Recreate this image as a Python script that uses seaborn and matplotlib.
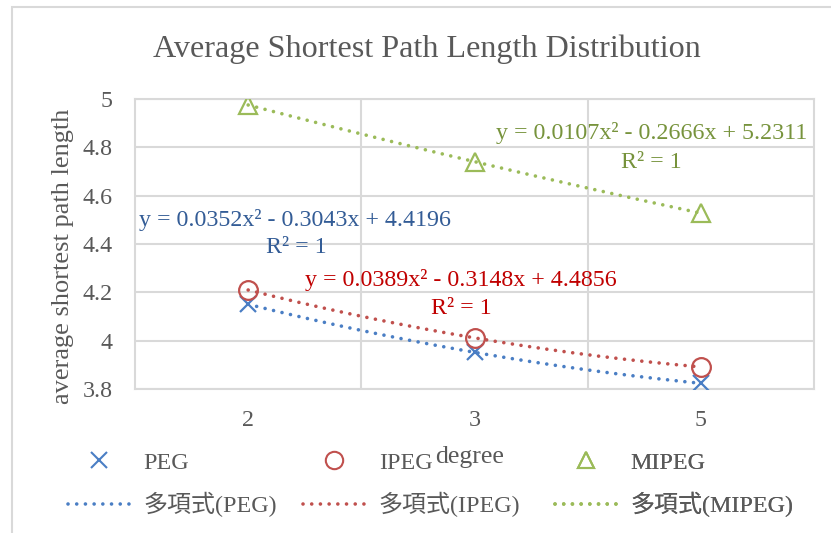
import numpy as np
import pandas as pd
import matplotlib
matplotlib.use("Agg")
import matplotlib.pyplot as plt
from matplotlib.lines import Line2D
from matplotlib.patches import Rectangle
import seaborn as sns

# ---- data -------------------------------------------------------------
degrees = ["2", "3", "5"]
peg = [4.1505, 3.9518, 3.8235]
ipeg = [4.2097, 4.0116, 3.8913]
mipeg = [4.9752, 4.7407, 4.5276]
series_names = ["PEG", "IPEG", "MIPEG"]
trend_prefix = "多項式"
y_ticks = [3.8, 4.0, 4.2, 4.4, 4.6, 4.8, 5.0]
y_tick_labels = ["3.8", "4", "4.2", "4.4", "4.6", "4.8", "5"]

# ---- style ------------------------------------------------------------
sns.set_theme(style="white")
plt.rcParams["font.family"] = ["Liberation Serif", "Noto Sans CJK TC"]
TXT = "#595959"
GRID = "#D9D9D9"
marker_colors = ["#4A7EC4", "#C0504D", "#9BBB59"]
eq_colors = ["#335C96", "#C00000", "#77933C"]
markers = ["x", "o", "^"]
marker_sizes = [12, 13.5, 12.5]
DOTS = (0, (0.01, 2.4))
FS = 17.3

W, H = 831, 533
fig = plt.figure(figsize=(W / 100, H / 100), dpi=100)
fig.patch.set_facecolor("white")

def fx(px):
    return px / W

def fy(py):
    return 1 - py / H

# chart border
fig.patches.append(Rectangle((fx(12), -0.1), 1.2, fy(7) + 0.1, transform=fig.transFigure,
                             fill=False, edgecolor=GRID, lw=1.5))

ax = fig.add_axes([fx(135), fy(389), fx(814) - fx(135), fy(99) - fy(389)])
ax.set_facecolor("white")

pos = np.arange(1, len(degrees) + 1)
df = pd.DataFrame({"pos": pos, "PEG": peg, "IPEG": ipeg, "MIPEG": mipeg})

fits = []
xs = np.linspace(1, len(degrees), 200)
for i, name in enumerate(series_names):
    coeffs = np.polyfit(df["pos"], df[name], 2)
    fits.append(coeffs)
    curve = pd.DataFrame({"x": xs, "y": np.polyval(coeffs, xs)})
    sns.lineplot(data=curve, x="x", y="y", ax=ax, color=marker_colors[i], lw=2.6,
                 linestyle=DOTS, dash_capstyle="round", zorder=2)

for i, name in enumerate(series_names):
    kw = dict(marker=markers[i], linestyle="none", markersize=marker_sizes[i],
              markeredgewidth=1.6, color=marker_colors[i], markeredgecolor=marker_colors[i],
              zorder=3)
    if markers[i] != "x":
        kw["markerfacecolor"] = "none"
    sns.lineplot(data=df, x="pos", y=name, ax=ax, **kw)

# axes ranges, grid, frame
ax.set_xlim(0.5, len(degrees) + 0.5)
ax.set_ylim(3.8, 5.0)
ax.set_yticks(y_ticks)
ax.set_yticklabels(y_tick_labels)
ax.set_xticks(pos)
ax.set_xticklabels(degrees)
ax.set_xticks(pos[:-1] + 0.5, minor=True)
ax.grid(which="major", axis="y", color=GRID, lw=1.5)
ax.grid(which="minor", axis="x", color=GRID, lw=1.5)
ax.grid(which="major", axis="x", visible=False)
for s in ax.spines.values():
    s.set_color(GRID)
    s.set_linewidth(1.5)
ax.tick_params(axis="both", which="both", length=0, labelsize=FS, labelcolor=TXT)
ax.tick_params(axis="y", pad=16)
ax.tick_params(axis="x", pad=15)

ax.set_xlabel("degree", fontsize=18.5, color=TXT)
ax.xaxis.set_label_coords((470 - 135) / 679, (389 - 446) / 290)
ax.set_ylabel("average shortest path length", fontsize=19, color=TXT)
ax.yaxis.set_label_coords((74 - 135) / 679, (389 - 256) / 290)

# title
fig.text(fx(427), fy(49), "Average Shortest Path Length Distribution",
         ha="center", va="center", fontsize=23.1, color=TXT)

# trendline equations
eq_pos = [((0.518, 4.499), (1.212, 4.384)),
          ((1.252, 4.251), (1.942, 4.135)),
          ((2.093, 4.859), (2.783, 4.739))]
for i, coeffs in enumerate(fits):
    a, b, c = coeffs
    sb = "-" if b < 0 else "+"
    sc = "-" if c < 0 else "+"
    eq = f"y = {a:.4f}x² {sb} {abs(b):.4f}x {sc} {abs(c):.4f}"
    (ex, ey), (rx, ry) = eq_pos[i]
    ax.text(ex, ey, eq, ha="left", va="center", fontsize=FS, color=eq_colors[i])
    ax.text(rx, ry, "R² = 1", ha="center", va="center", fontsize=FS, color=eq_colors[i])

# legend: one column per series
legend_x = [68, 303, 555]
for i, name in enumerate(series_names):
    mh = Line2D([], [], marker=markers[i], linestyle="none", markersize=marker_sizes[i] - 1,
                markeredgewidth=1.5, color=marker_colors[i],
                markerfacecolor="none" if markers[i] != "x" else marker_colors[i])
    lh = Line2D([], [], color=marker_colors[i], lw=2.6, linestyle=DOTS, dash_capstyle="round")
    leg = ax.legend([mh, lh], [name, f"{trend_prefix}({name})"], loc="upper left",
                    bbox_to_anchor=(fx(legend_x[i]), fy(452)), bbox_transform=fig.transFigure,
                    frameon=False, fontsize=FS, handlelength=2.6, handletextpad=0.55,
                    labelspacing=0.75, borderpad=0, borderaxespad=0, labelcolor=TXT)
    ax.add_artist(leg)

fig.savefig("out.png", dpi=100, facecolor="white")
